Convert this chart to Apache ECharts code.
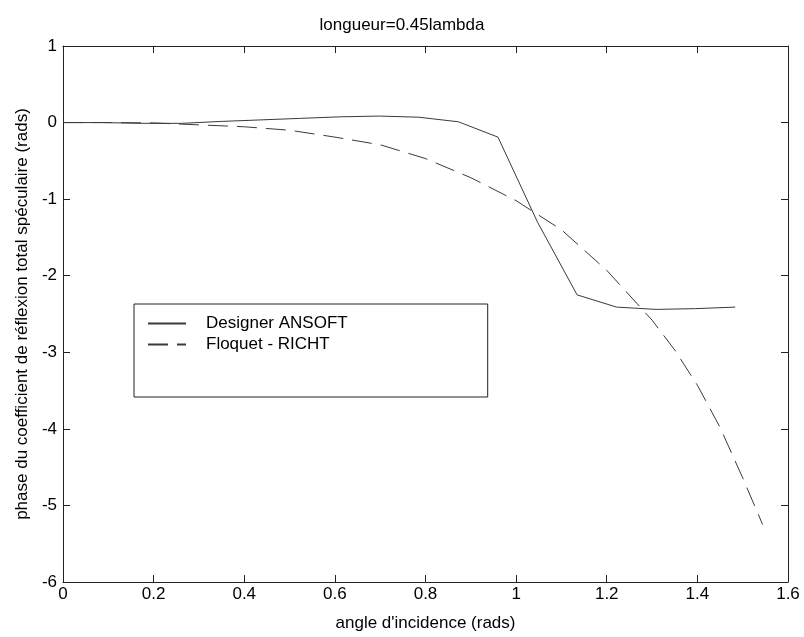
<!DOCTYPE html>
<html>
<head>
<meta charset="utf-8">
<script src="https://cdn.jsdelivr.net/npm/echarts@6/dist/echarts.min.js"></script>
<style>html,body{margin:0;padding:0;background:#fff;}#c{width:804px;height:637px;}</style>
</head>
<body>
<div id="c"></div>
<script>
const titleText = 'longueur=0.45lambda';
const xName = "angle d'incidence (rads)";
const yName = 'phase du coefficient de réflexion total spéculaire (rads)';
const seriesNames = ['Designer ANSOFT', 'Floquet - RICHT'];

const angleAnsoft = [0, 0.0873, 0.1745, 0.2618, 0.3491, 0.4363, 0.5236, 0.6109, 0.6981, 0.7854, 0.8727, 0.9599, 1.0472, 1.1345, 1.2217, 1.3090, 1.3963, 1.4835];
const phaseAnsoft = [0, 0.0, -0.01, -0.01, 0.015, 0.035, 0.055, 0.075, 0.085, 0.07, 0.01, -0.19, -1.3, -2.25, -2.41, -2.44, -2.43, -2.41];

const angleFloquet = [0, 0.1, 0.2, 0.3, 0.4, 0.5, 0.6, 0.7, 0.8, 0.9, 1.0, 1.1, 1.2, 1.3, 1.35, 1.4, 1.45, 1.5, 1.544];
const phaseFloquet = [0, 0, -0.005, -0.03, -0.055, -0.10, -0.19, -0.29, -0.47, -0.72, -1.02, -1.40, -1.93, -2.58, -2.97, -3.43, -3.98, -4.64, -5.25];

const xMin = 0, xMax = 1.6, xStep = 0.2;
const yMin = -6, yMax = 1, yStep = 1;

const FONT = 'Liberation Sans, Arial, sans-serif';
const FS = 17;
const axisCol = '#222';
const lineCol = '#3a3a3a';

function zip(a, b) { return a.map((v, i) => [v, b[i]]); }

const chart = echarts.init(document.getElementById('c'), null, {renderer: 'canvas'});
const baseAxis = {
  type: 'value',
  axisLine: {show: true, onZero: false, lineStyle: {color: axisCol, width: 1}},
  axisTick: {show: true, inside: true, length: 7, lineStyle: {color: axisCol}},
  splitLine: {show: false},
  axisLabel: {color: '#000', fontFamily: FONT, fontSize: FS}
};
chart.setOption({
  backgroundColor: '#fff',
  animation: false,
  title: {
    text: titleText, left: 'center', top: 12,
    textStyle: {fontFamily: FONT, fontSize: FS, fontWeight: 'normal', color: '#000'}
  },
  grid: {left: 63, right: 16, top: 46, bottom: 53},
  legend: {
    orient: 'vertical', left: 134, top: 304,
    backgroundColor: '#fff', borderColor: axisCol, borderWidth: 1,
    padding: [11, 140, 44, 13],
    itemWidth: 38, itemHeight: 14, itemGap: 4,
    itemStyle: {opacity: 0},
    textStyle: {fontFamily: FONT, fontSize: FS, color: '#000', padding: [0, 0, 0, 15]},
    data: seriesNames
  },
  xAxis: [
    Object.assign({}, baseAxis, {
      min: xMin, max: xMax, interval: xStep, position: 'bottom',
      name: xName, nameLocation: 'middle', nameGap: 33,
      nameTextStyle: {fontFamily: FONT, fontSize: FS, color: '#000'},
      axisLabel: Object.assign({}, baseAxis.axisLabel, {margin: 4})
    }),
    Object.assign({}, baseAxis, {
      min: xMin, max: xMax, interval: xStep, position: 'top',
      axisLabel: {show: false}
    })
  ],
  yAxis: [
    Object.assign({}, baseAxis, {
      min: yMin, max: yMax, interval: yStep, position: 'left',
      name: yName, nameLocation: 'middle', nameGap: 26,
      nameTextStyle: {fontFamily: FONT, fontSize: FS, color: '#000'},
      axisLabel: Object.assign({}, baseAxis.axisLabel, {margin: 6})
    }),
    Object.assign({}, baseAxis, {
      min: yMin, max: yMax, interval: yStep, position: 'right',
      axisLabel: {show: false}
    })
  ],
  series: [
    {
      name: seriesNames[0], type: 'line', xAxisIndex: 0, yAxisIndex: 0,
      data: zip(angleAnsoft, phaseAnsoft), showSymbol: false, symbol: 'none',
      lineStyle: {color: lineCol, width: 1, type: 'solid'},
      itemStyle: {color: lineCol}
    },
    {
      name: seriesNames[1], type: 'line', xAxisIndex: 0, yAxisIndex: 0,
      data: zip(angleFloquet, phaseFloquet), showSymbol: false, symbol: 'none',
      lineStyle: {color: lineCol, width: 1, type: [20, 9]},
      itemStyle: {color: lineCol}
    }
  ]
});
</script>
</body>
</html>
